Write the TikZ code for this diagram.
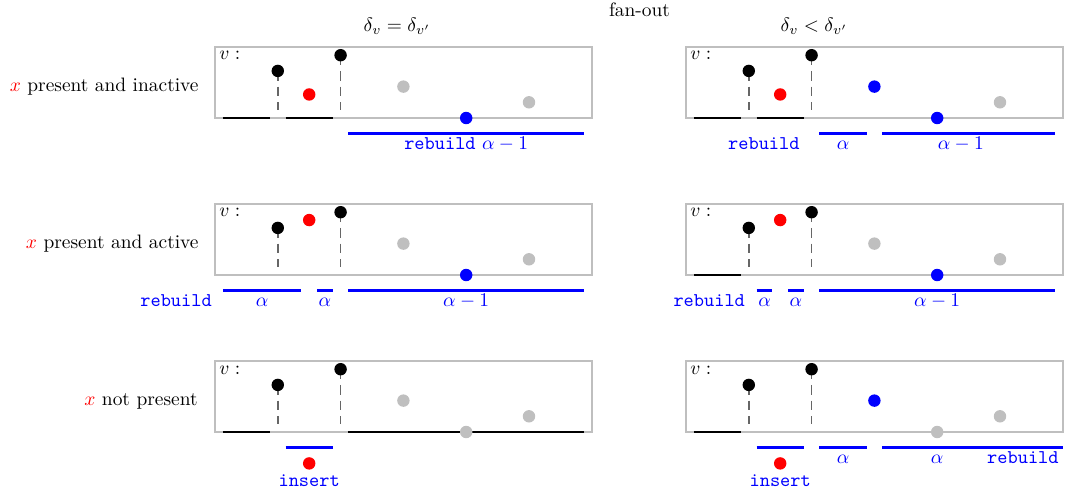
\documentclass[tikz,border=0pt]{standalone}
\begin{document}
\tikzset{
  boxline/.style={draw=lightgray, line width=1pt},
  dotn/.style={circle, inner sep=0pt, minimum size=6.4pt},
  kdot/.style={dotn, fill=black},
  rdot/.style={dotn, fill=red},
  gdot/.style={dotn, fill=lightgray},
  udot/.style={dotn, fill=blue},
  drop/.style={draw=black!60, line width=0.8pt, dash pattern=on 5pt off 3.07pt},
  seg/.style={draw=black, line width=1.1pt},
  bseg/.style={draw=blue, line width=1.4pt},
  lab/.style={text=blue, inner sep=0pt, anchor=base},
  vlab/.style={anchor=north west, inner sep=2pt},
  rowlab/.style={anchor=base east, inner sep=0pt},
  title/.style={anchor=base, inner sep=0pt},
}
\newcommand\panelbase[1]{%
  \draw[boxline] (0,0) rectangle (12,2.25);
  \node[vlab] (#1v) at (0,2.25) {$v:$};
  \coordinate (#1p) at (2,1.5);
  \coordinate (#1q) at (4,2);
  \coordinate (#1pb) at (2,0.25);
  \coordinate (#1qb) at (4,0.25);
  \draw[drop] (#1p) -- (#1pb);
  \draw[drop] (#1q) -- (#1qb);
  \node[kdot] (#1k1) at (#1p) {};
  \node[kdot] (#1k2) at (#1q) {};
}
\begin{tikzpicture}[x=0.568cm, y=0.568cm]
\useasboundingbox (-6.847,3.758) rectangle (27.102,-12.166);

% titles
\node[title] (fan) at (13.52,3.23) {fan-out};
\node[title] (tl) at (5.8,2.75) {$\delta_v = \delta_{v'}$};
\node[title] (tr) at (19.08,2.75) {$\delta_v < \delta_{v'}$};

% row labels
\node[rowlab] (r1) at (-0.51,0.84) {\textcolor{red}{$x$} present and inactive};
\node[rowlab] (r2) at (-0.51,-4.16) {\textcolor{red}{$x$} present and active};
\node[rowlab] (r3) at (-0.54,-9.16) {\textcolor{red}{$x$} not present};

% ---- row 1 left
\begin{scope}[shift={(0,0)}]
  \panelbase{A}
  \draw[seg] (0.25,0) -- (1.75,0);
  \draw[seg] (2.25,0) -- (3.75,0);
  \node[rdot] (Ar) at (3,0.75) {};
  \node[gdot] (Ag1) at (6,1) {};
  \node[udot] (Au) at (8,0) {};
  \node[gdot] (Ag2) at (10,0.5) {};
  \draw[bseg] (4.25,-0.5) -- (11.75,-0.5);
  \node[lab] (Al) at (8,-1) {\texttt{rebuild} $\alpha-1$};
\end{scope}

% ---- row 1 right
\begin{scope}[shift={(15,0)}]
  \panelbase{B}
  \draw[seg] (0.25,0) -- (1.75,0);
  \draw[seg] (2.25,0) -- (3.75,0);
  \node[rdot] (Br) at (3,0.75) {};
  \node[udot] (Bu1) at (6,1) {};
  \node[udot] (Bu2) at (8,0) {};
  \node[gdot] (Bg) at (10,0.5) {};
  \draw[bseg] (4.25,-0.5) -- (5.75,-0.5);
  \draw[bseg] (6.25,-0.5) -- (11.75,-0.5);
  \node[lab] (Bl1) at (2.48,-1) {\texttt{rebuild}};
  \node[lab] (Bl2) at (5,-1) {$\alpha$};
  \node[lab] (Bl3) at (8.75,-1) {$\alpha-1$};
\end{scope}

% ---- row 2 left
\begin{scope}[shift={(0,-5)}]
  \panelbase{C}
  \node[rdot] (Cr) at (3,1.75) {};
  \node[gdot] (Cg1) at (6,1) {};
  \node[udot] (Cu) at (8,0) {};
  \node[gdot] (Cg2) at (10,0.5) {};
  \draw[bseg] (0.25,-0.5) -- (2.75,-0.5);
  \draw[bseg] (3.25,-0.5) -- (3.75,-0.5);
  \draw[bseg] (4.25,-0.5) -- (11.75,-0.5);
  \node[lab] (Cl0) at (-1.24,-1) {\texttt{rebuild}};
  \node[lab] (Cl1) at (1.5,-1) {$\alpha$};
  \node[lab] (Cl2) at (3.5,-1) {$\alpha$};
  \node[lab] (Cl3) at (8,-1) {$\alpha-1$};
\end{scope}

% ---- row 2 right
\begin{scope}[shift={(15,-5)}]
  \panelbase{D}
  \draw[seg] (0.25,0) -- (1.75,0);
  \node[rdot] (Dr) at (3,1.75) {};
  \node[gdot] (Dg1) at (6,1) {};
  \node[udot] (Du) at (8,0) {};
  \node[gdot] (Dg2) at (10,0.5) {};
  \draw[bseg] (2.25,-0.5) -- (2.75,-0.5);
  \draw[bseg] (3.25,-0.5) -- (3.75,-0.5);
  \draw[bseg] (4.25,-0.5) -- (11.75,-0.5);
  \node[lab] (Dl0) at (0.74,-1) {\texttt{rebuild}};
  \node[lab] (Dl1) at (2.5,-1) {$\alpha$};
  \node[lab] (Dl2) at (3.5,-1) {$\alpha$};
  \node[lab] (Dl3) at (8,-1) {$\alpha-1$};
\end{scope}

% ---- row 3 left
\begin{scope}[shift={(0,-10)}]
  \panelbase{E}
  \draw[seg] (0.25,0) -- (1.75,0);
  \draw[seg] (4.25,0) -- (11.75,0);
  \node[gdot] (Eg1) at (6,1) {};
  \node[gdot] (Eg2) at (8,0) {};
  \node[gdot] (Eg3) at (10,0.5) {};
  \draw[bseg] (2.25,-0.5) -- (3.75,-0.5);
  \node[rdot] (Er) at (3,-1) {};
  \node[lab] (El) at (3,-1.75) {\texttt{insert}};
\end{scope}

% ---- row 3 right
\begin{scope}[shift={(15,-10)}]
  \panelbase{F}
  \draw[seg] (0.25,0) -- (1.75,0);
  \node[udot] (Fu) at (6,1) {};
  \node[gdot] (Fg1) at (8,0) {};
  \node[gdot] (Fg2) at (10,0.5) {};
  \draw[bseg] (2.25,-0.5) -- (3.75,-0.5);
  \draw[bseg] (4.25,-0.5) -- (5.75,-0.5);
  \draw[bseg] (6.25,-0.5) -- (12,-0.5);
  \node[rdot] (Fr) at (3,-1) {};
  \node[lab] (Fl0) at (3,-1.75) {\texttt{insert}};
  \node[lab] (Fl1) at (5,-1) {$\alpha$};
  \node[lab] (Fl2) at (8,-1) {$\alpha$};
  \node[lab] (Fl3) at (10.73,-1) {\texttt{rebuild}};
\end{scope}
\end{tikzpicture}
\end{document}
